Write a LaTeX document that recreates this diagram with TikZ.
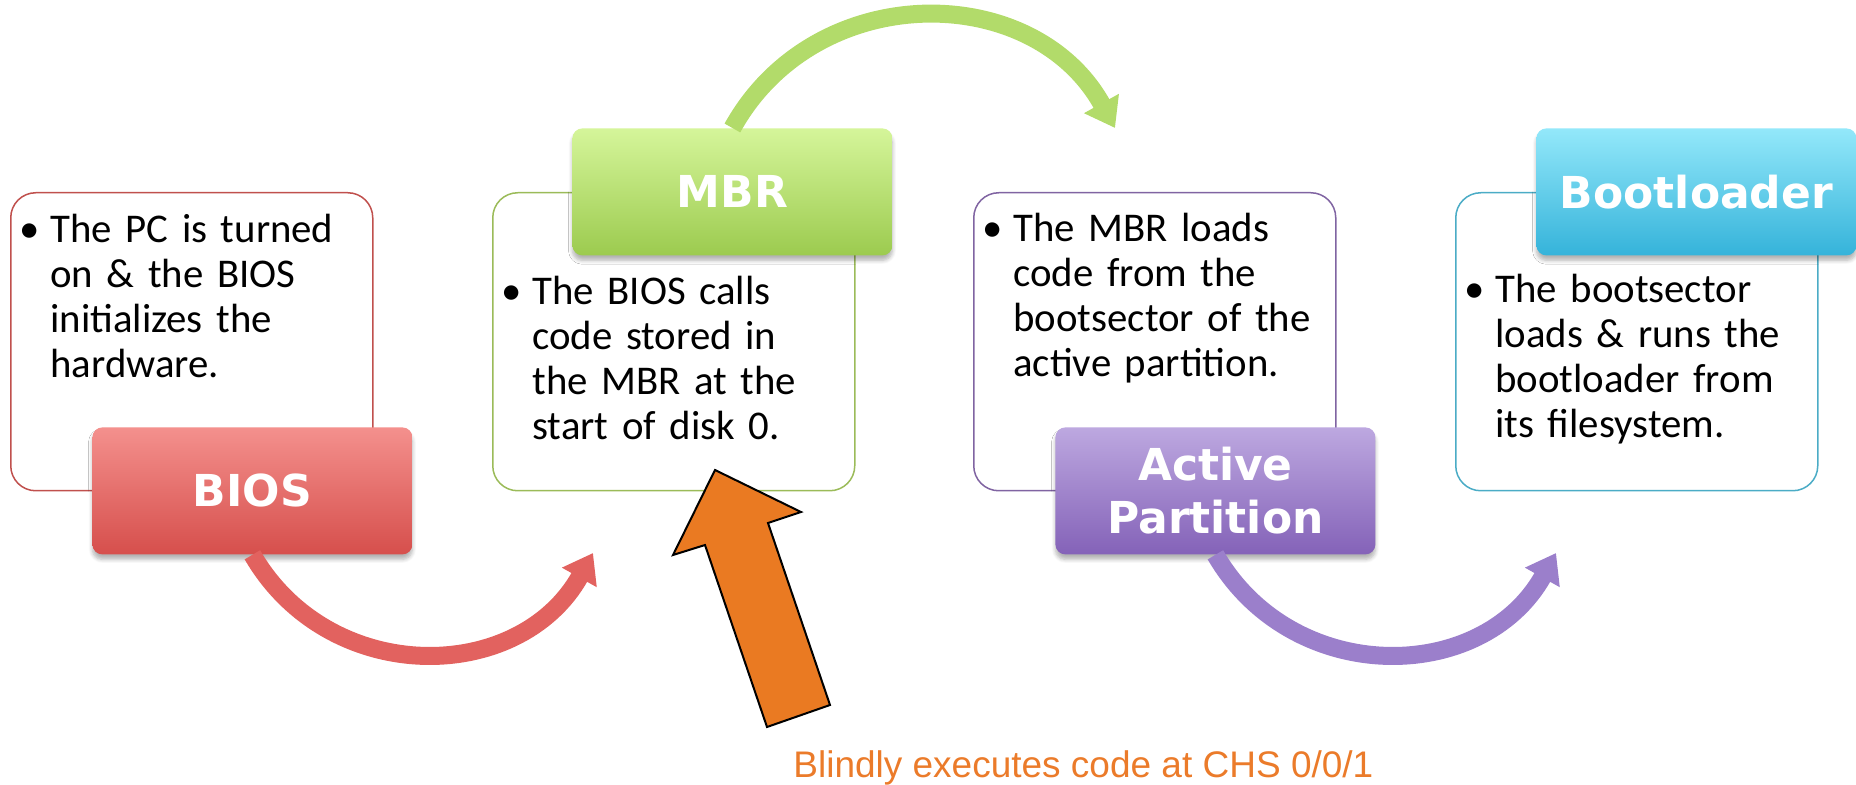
\documentclass[tikz,border=0pt]{standalone}
\usepackage{fontspec}
\setmainfont{Carlito}[WordSpace=0.85]
\newfontfamily\headfont{DejaVu Sans}
\newfontfamily\notefont{Liberation Sans}
\usetikzlibrary{arrows.meta,shadows.blur}

\newlength{\du}
\setlength{\du}{0.5pt}

\newcommand{\itemdot}{\llap{\makebox[31\du][l]{•}}}

\tikzset{
  textbox/.style={draw, fill=white, line width=1.5\du, rounded corners=25\du,
    minimum width=362\du, minimum height=298\du, inner sep=0pt, anchor=north west},
  titlebox/.style={rounded corners=10\du, minimum width=320\du, minimum height=127\du,
    inner sep=0pt, anchor=north west, align=center, text=white,
    font=\headfont\bfseries\fontsize{22}{26.5}\selectfont,
    blur shadow={shadow xshift=0\du, shadow yshift=-5\du, shadow blur steps=6, shadow opacity=30}},
  bullettext/.style={anchor=base west, align=left, inner sep=0pt, text width=330\du,
    font=\fontsize{20.4}{22.4}\selectfont},
  flowarrow/.style={line width=18\du, -{Triangle[width=19pt,length=14pt]}},
  pointer/.style={draw=black, line width=2\du, fill=pointerfill, line join=miter},
  notetext/.style={anchor=base west, inner sep=0pt, text=notecolor,
    font=\notefont\fontsize{18.5}{22}\selectfont}
}

\begin{document}
\begin{tikzpicture}
\pgftransformxscale{1.000000}
\pgftransformyscale{-1.000000}
\definecolor{biosline}{rgb}{0.752941, 0.313725, 0.301961}
\definecolor{biostop}{rgb}{0.956863, 0.564706, 0.552941}
\definecolor{biosbottom}{rgb}{0.839216, 0.309804, 0.298039}
\definecolor{biosarrow}{rgb}{0.886275, 0.384314, 0.372549}
\definecolor{mbrline}{rgb}{0.607843, 0.733333, 0.349020}
\definecolor{mbrtop}{rgb}{0.835294, 0.960784, 0.603922}
\definecolor{mbrbottom}{rgb}{0.611765, 0.796078, 0.309804}
\definecolor{mbrarrow}{rgb}{0.698039, 0.858824, 0.415686}
\definecolor{activeline}{rgb}{0.501961, 0.392157, 0.635294}
\definecolor{activetop}{rgb}{0.741176, 0.658824, 0.878431}
\definecolor{activebottom}{rgb}{0.517647, 0.384314, 0.721569}
\definecolor{activearrow}{rgb}{0.607843, 0.498039, 0.796078}
\definecolor{bootline}{rgb}{0.294118, 0.674510, 0.776471}
\definecolor{boottop}{rgb}{0.576471, 0.909804, 0.980392}
\definecolor{bootbottom}{rgb}{0.207843, 0.701961, 0.854902}
\definecolor{pointerfill}{rgb}{0.917647, 0.478431, 0.133333}
\definecolor{notecolor}{rgb}{0.921569, 0.482353, 0.164706}
\useasboundingbox (0\du,0\du) rectangle (1856\du,785\du);
% boxes with the description of each step
\node[textbox, draw=biosline] (biosbox) at (10\du,192\du){};
\node[textbox, draw=mbrline] (mbrbox) at (492\du,192\du){};
\node[textbox, draw=activeline] (activebox) at (973\du,192\du){};
\node[textbox, draw=bootline] (bootbox) at (1455\du,192\du){};
% step titles
\node[titlebox, top color=biostop, bottom color=biosbottom] (bios) at (92\du,427\du){BIOS};
\node[titlebox, top color=mbrtop, bottom color=mbrbottom] (mbr) at (572\du,128\du){MBR};
\node[titlebox, top color=activetop, bottom color=activebottom] (active) at (1055\du,427\du){Active\\Partition};
\node[titlebox, top color=boottop, bottom color=bootbottom] (boot) at (1536\du,128\du){Bootloader};
% setfont left to latex
\node[bullettext] (biostext) at (50\du,243\du){\itemdot The PC is turned\\on \& the BIOS\\initializes the\\hardware.};
\node[bullettext] (mbrtext) at (532\du,305\du){\itemdot The BIOS calls\\code stored in\\the MBR at the\\start of disk 0.};
\node[bullettext] (activetext) at (1013\du,242\du){\itemdot The MBR loads\\code from the\\bootsector of the\\active partition.};
\node[bullettext] (boottext) at (1495\du,303\du){\itemdot The bootsector\\loads \& runs the\\bootloader from\\its filesystem.};
% curved arrows from one step to the next
\coordinate (mbrtip) at (593\du,553\du);
\coordinate (activetip) at (1115\du,128\du);
\coordinate (boottip) at (1556\du,553\du);
\draw[flowarrow, draw=biosarrow] (bios.south) .. controls (329\du,687\du) and (519\du,685\du) .. (mbrtip);
\draw[flowarrow, draw=mbrarrow] (mbr.north) .. controls (815\du,-21\du) and (1033\du,-20\du) .. (activetip);
\draw[flowarrow, draw=activearrow] (active.south) .. controls (1292\du,687\du) and (1482\du,685\du) .. (boottip);
% pointer to the MBR box
\filldraw[pointer] (715\du,470\du)--(801\du,512\du)--(768\du,523\du)--(830\du,705\du)--(767\du,727\du)--(705\du,545\du)--(673\du,555\du)--cycle;
\node[notetext] (note) at (793\du,777\du){Blindly executes code at CHS 0/0/1};
\end{tikzpicture}
\end{document}
